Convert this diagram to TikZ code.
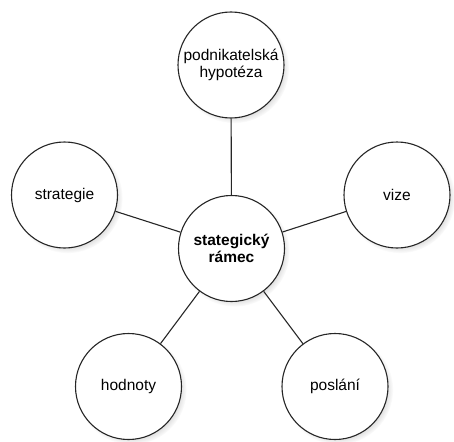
\documentclass[tikz,border=0pt]{standalone}
\usepackage{fontspec}
\setmainfont{Liberation Sans}
\usetikzlibrary{shadows}
\begin{document}
\begin{tikzpicture}[x=1pt,y=-1pt,
  bubble/.style={circle, draw=black!85, line width=1.1pt, fill=white,
    minimum size=106pt, inner sep=0pt, align=center,
    font=\fontsize{15.5}{16.5}\selectfont,
    circular drop shadow={shadow xshift=3pt, shadow yshift=-3pt, opacity=0.3, shadow scale=1.04}},
  hub/.style={bubble, font=\fontsize{15.5}{16.5}\selectfont\bfseries},
  link/.style={draw=black!85, line width=1.1pt}]
  \useasboundingbox (0,0) rectangle (454,441);

  \node[hub]    (rm) at (231.5,248.5) {stategický\\rámec};
  \node[bubble] (ph) at (231,65)      {podnikatelská\\hypotéza};
  \node[bubble] (st) at (64.5,195)    {strategie};
  \node[bubble] (vz) at (397,195)     {vize};
  \node[bubble] (hd) at (128.5,386.5) {hodnoty};
  \node[bubble] (po) at (335,386.5)   {poslání};

  \draw[link] (rm) -- (ph);
  \draw[link] (rm) -- (st);
  \draw[link] (rm) -- (vz);
  \draw[link] (rm) -- (hd);
  \draw[link] (rm) -- (po);
\end{tikzpicture}
\end{document}
